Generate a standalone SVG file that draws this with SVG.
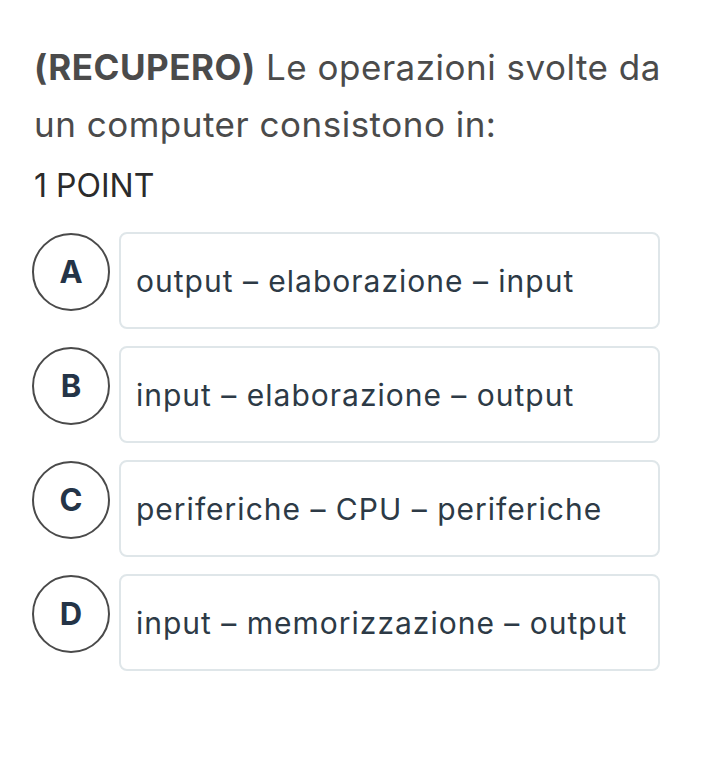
<svg xmlns="http://www.w3.org/2000/svg" width="720" height="769" viewBox="0 0 720 769">
<style>
text{font-family:Inter,"Noto Sans",sans-serif}
.t{font-size:35px;fill:#4b4b4b;letter-spacing:0.5px}
.box{fill:#fff;stroke:#dfe6e9;stroke-width:2}
.c{fill:#fff;stroke:#4a4a4a;stroke-width:2}
.l{font-size:31px;font-weight:700;fill:#243447;text-anchor:middle}
.o{font-size:30px;fill:#2d3a46;letter-spacing:1px}
</style>
<rect width="720" height="769" fill="#fff"/>
<text class="t" x="34" y="80"><tspan font-weight="700">(RECUPERO)</tspan> Le operazioni svolte da</text>
<text class="t" x="34" y="137">un computer consistono in:</text>
<text x="34" y="197" font-size="32" fill="#2b2b2b">1 POINT</text>
<g id="A"><rect class="box" x="120" y="233" width="539" height="95" rx="7"/><circle class="c" cx="71" cy="272" r="38"/><text class="l" x="71" y="283">A</text><text class="o" x="136" y="292">output – elaborazione – input</text></g>
<g id="B"><rect class="box" x="120" y="347" width="539" height="95" rx="7"/><circle class="c" cx="71" cy="386" r="38"/><text class="l" x="71" y="397">B</text><text class="o" x="136" y="406">input – elaborazione – output</text></g>
<g id="C"><rect class="box" x="120" y="461" width="539" height="95" rx="7"/><circle class="c" cx="71" cy="500" r="38"/><text class="l" x="71" y="511">C</text><text class="o" x="136" y="520">periferiche – CPU – periferiche</text></g>
<g id="D"><rect class="box" x="120" y="575" width="539" height="95" rx="7"/><circle class="c" cx="71" cy="614" r="38"/><text class="l" x="71" y="625">D</text><text class="o" x="136" y="634">input – memorizzazione – output</text></g>
<g id="connectors"/>
</svg>
